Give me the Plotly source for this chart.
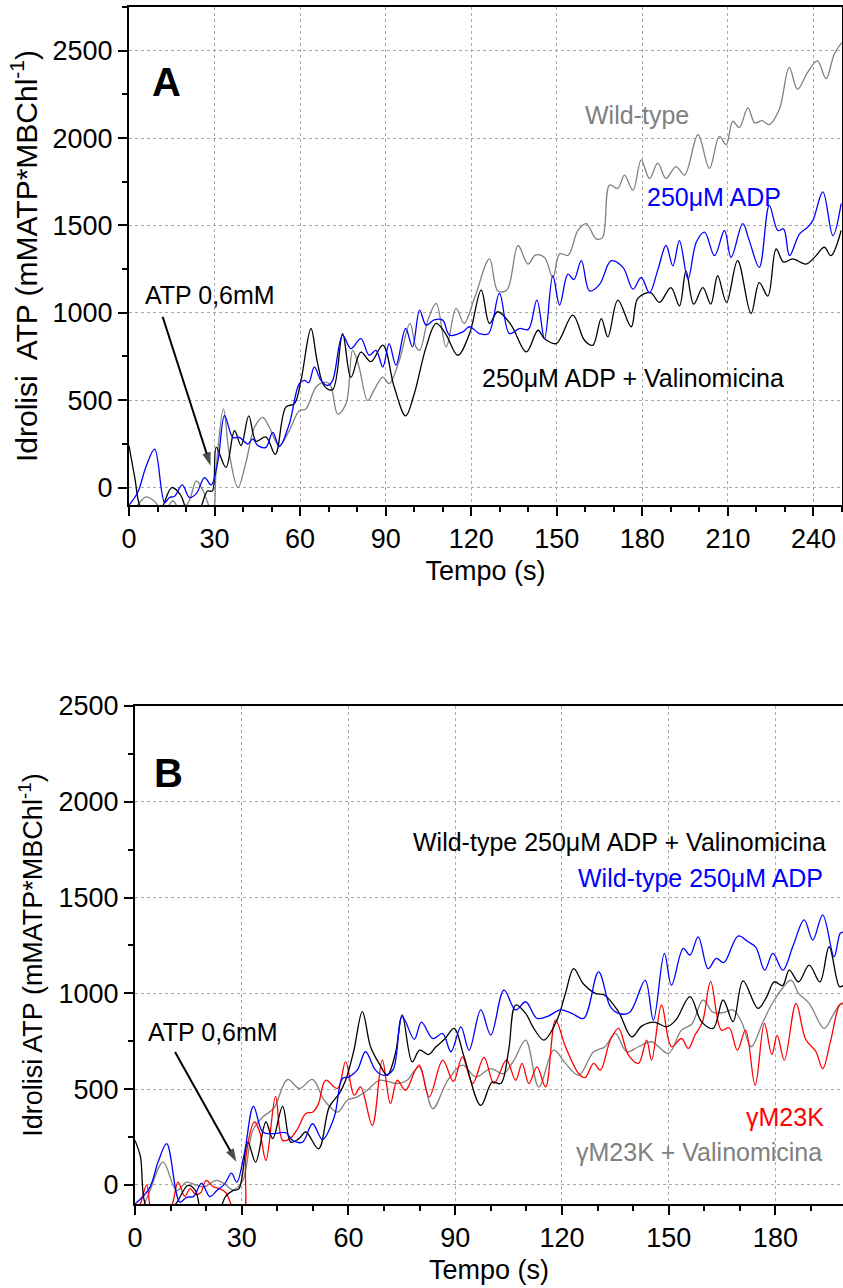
import plotly.graph_objects as go

W, H = 843, 1288

# ---------------- Panel A data ----------------
a_black_x = [0, 2, 4.3, 8, 11, 15, 18, 21, 24, 27.5, 29.2, 30.6, 34, 37, 39.3, 42, 44.6, 48, 51.3, 55, 58, 60.3,
             63.8, 66, 68.5, 71.4, 74.9, 77.8, 81.3, 84.8, 89, 93, 97, 100, 104.2, 107.7, 111, 115.3, 119.4, 123.5,
             126.4, 129.3, 134, 139.3, 143.4, 145.7, 149.8, 155.6, 159.7, 162.6, 165.6, 167.9, 171.4, 176.1, 178.4,
             182.8, 186, 190, 193, 195.3, 198, 201.2, 204, 206.4, 209.5, 213.4, 218.1, 221, 224, 226.9, 229.5, 232.7,
             237.4, 240.5, 243.8, 246.1, 249.7]
a_black_y = [240, 60, -120, -150, -130, 0, -40, -150, -150, -20, -20, 230, 115, 325, 240, 410, 265, 290, 190, 460, 480, 613,
             910, 720, 580, 560, 880, 630, 775, 720, 815, 575, 410, 535, 805, 939, 880, 757, 881, 1130,
             939, 1006, 930, 776, 900, 852, 824, 987, 843, 814, 967, 862, 1073, 920, 1082,
             1115, 1060, 1144, 1040, 1240, 1050, 1144, 1050, 1212, 1060, 1298, 996, 1173, 1096, 1365, 1290, 1308,
             1279, 1320, 1375, 1327, 1471]

a_blue_x = [0, 3, 6, 9, 12.5, 14.2, 16, 18.7, 21.2, 23.6, 26.5, 28.8, 31.2, 33.5, 36.4, 38.7, 41.7, 43.4, 45.2, 48,
            50.4, 52.7, 56.2, 59.7, 61.5, 63, 65, 67.3, 69.7, 71.4, 74.9, 77.8, 81.3, 84.2, 86.6, 89, 91.2, 93.6, 97,
            99.4, 101.9, 104.2, 107, 110, 112.4, 117.1, 119.4, 122.9, 126, 129.9, 133.4, 136.9, 140, 143, 145.7,
            148.6, 151, 153.9, 156, 158.6, 161.5, 165, 169.1, 173.2, 176.7, 179.6, 182.5, 185.5, 188.3, 190.7, 193,
            196, 198.9, 201.8, 205.3, 208.8, 211.1, 215.2, 217.5, 221, 224.5, 227.5, 229.5, 231.6, 235.1, 238, 239.8,
            243.3, 246.8, 249.7]
a_blue_y = [-100, -30, 120, 220, -86, -57, -50, 15, -57, -35, 57, 15, 153, 412, 287, 287, 250, 278, 240, 230,
            316, 234, 364, 594, 613, 600, 690, 613, 584, 613, 872, 795, 852, 757, 785, 690, 824, 700, 910,
            805, 1015, 929, 960, 958, 872, 891, 920, 881, 880, 1111, 881, 910, 905, 1073, 852,
            1212, 1044, 1221, 1190, 1298, 1125, 1163, 1298, 1260, 1135, 1202, 1115, 1250, 1385, 1269, 1413,
            1192, 1404, 1462, 1327, 1471, 1317, 1510, 1413, 1260, 1615, 1471, 1480, 1327, 1452, 1490, 1529,
            1692, 1442, 1625]

a_gray_x = [0, 3, 6, 9, 12, 15.4, 18, 21, 23.6, 26, 29.4, 30.6, 33.1, 35.2, 38.2, 41, 44, 46.9, 49.2, 52.7, 56.2,
            59.7, 62, 65.6, 68.5, 70.5, 73.2, 76.1, 78.4, 80.5, 83.7, 86, 89, 91.2, 94.8, 98.5, 100.6, 101.9, 104.8,
            107.7, 111.2, 114.7, 117.5, 121.2, 126.4, 129.3, 132.5, 136.4, 139.9, 142.5, 145.7, 148.6, 151, 154,
            157.4, 160.3, 163.8, 166, 168.5, 171.4, 173.7, 176.7, 179.6, 182.5, 185.4, 188.3, 191.8, 194.8, 199.5,
            203.5, 207, 209.4, 211.7, 214, 217, 219.4, 222, 224.5, 228, 231.5, 234.4, 237.9, 241.4, 244.4, 247.3, 250]
a_gray_y = [-150, -100, -54, -80, -140, -77, -130, -80, 38, -20, -150, 115, 450, 190, 0, 144, 345, 402, 345, 240, 326,
            440, 450, 575, 603, 590, 420, 479, 785, 700, 498, 560, 632, 594, 728, 939, 805, 785, 958,
            1054, 805, 1025, 940, 1087, 1308, 1125, 1130, 1385, 1279, 1330, 1317, 1202, 1337, 1330,
            1471, 1510, 1423, 1430, 1731, 1712, 1788, 1702, 1875, 1769, 1856, 1769, 1837, 1788, 2019,
            1827, 2010, 1962, 2096, 2060, 2173, 2087, 2100, 2077, 2163, 2404, 2279, 2375, 2442, 2340, 2481, 2548]

# ---------------- Panel B data ----------------
b_black_x = [0, 1.5, 3.3, 7, 11, 14.9, 17, 19, 23, 25.5, 27.5, 29.2, 31.7, 33.9, 36.8, 38.7, 41.5, 43.8, 46, 48, 51.6,
             54.6, 57.4, 59.2, 61.5, 63.9, 66.2, 68.6, 70.9, 73.2, 75.1, 77.9, 80, 82.5, 84.6, 87, 89.7, 92.5, 97.2,
             100.4, 102.8, 105, 107, 109.8, 112, 114.9, 118.6, 121, 123.3, 126, 129.4, 132, 135.9, 139.6, 142.5,
             146, 149.4, 152, 156, 159.2, 162.5, 165.3, 168.1, 170.9, 175.1, 177.5, 179.7, 182, 183.9, 186.5, 189.5,
             192.5, 195.1, 198, 199]
b_black_y = [232, 150, -120, -150, -110, -3, -30, -150, -150, -60, -30, -21, 223, 119, 328, 241, 410, 223, 240, 276, 188,
             407, 476, 546, 700, 904, 721, 634, 572, 686, 887, 642, 703, 680, 721, 760, 817, 668, 415,
             537, 529, 700, 939, 895, 820, 756, 860, 1000, 1129, 1050, 1000, 990, 904, 773, 830,
             850, 825, 860, 983, 852, 817, 965, 852, 1065, 921, 980, 1060, 1040, 1121, 1060, 1147,
             1060, 1243, 1035, 1040]

b_blue_x = [0, 4, 6.5, 8.9, 12.6, 14.5, 16.5, 18.7, 21, 23, 25.2, 27.1, 28.6, 30.8, 33.3, 35.9, 38.7, 42.4, 44.3, 47.1,
            49.9, 52.7, 56, 58.3, 60.2, 62.5, 64.8, 67.6, 70, 72.5, 75.1, 78.5, 80.5, 83.7, 86.5, 88.8, 91.6, 93.9,
            97.2, 100, 103.7, 107, 109.8, 113, 116, 119.6, 122.8, 126.1, 130.3, 133.6, 135.9, 139, 143.4, 145.7,
            148.8, 150.8, 154.1, 156, 158.3, 161.1, 163.4, 165.5, 169.5, 172.3, 174.5, 177, 179.3, 182.1, 185,
            188.1, 190.5, 193.3, 196.5, 198.2, 199]
b_blue_y = [-100, -20, 120, 215, -90, -65, -60, 9, -61, -30, 5, 61, 14, 171, 410, 276, 267, 272, 232, 223,
            319, 236, 354, 555, 564, 600, 695, 599, 572, 600, 878, 760, 850, 764, 790, 695, 825, 703,
            913, 782, 1017, 913, 956, 869, 880, 913, 895, 869, 1112, 930, 895, 900, 1068, 860,
            1208, 1042, 1234, 1200, 1295, 1129, 1182, 1160, 1299, 1269, 1240, 1121, 1208, 1121, 1250,
            1383, 1278, 1409, 1191, 1313, 1320]

b_red_x = [0, 1.5, 3.3, 5, 9, 10.5, 12.1, 14, 15.5, 17, 18.5, 20, 22, 23.8, 25.5, 27, 28.5, 30.5, 31.2, 33.6, 35,
           36.8, 39.5, 41.5, 43.5, 45.7, 48, 50, 51.5, 53.6, 56.9, 59.2, 61.6, 63.4, 66.7, 69.5, 71.8, 73.7, 76,
           78.8, 80, 82.7, 86.5, 89.5, 92, 94.9, 98.1, 100.9, 104.4, 107, 108.8, 110.7, 113, 115.4, 118.2, 121,
           124.7, 126.5, 128.9, 130.8, 133.6, 135.9, 138.7, 141.5, 143.8, 145.2, 148, 150.8, 153.6, 155.5, 157.4,
           159.5, 161.8, 164.8, 167, 169.3, 171.6, 174.3, 176.9, 179, 180.5, 182.5, 185.8, 188.5, 191.4, 193.3,
           195.5, 198, 199]
b_red_y = [-150, -100, 0, -150, -150, -100, 14, -60, -20, -50, -40, 23, -10, -20, -40, -100, -150, -150, 150, 328, 280,
           127, 462, 232, 240, 293, 372, 380, 420, 546, 503, 642, 468, 511, 311, 651, 424, 546, 494,
           599, 625, 459, 651, 540, 668, 529, 665, 529, 651, 546, 634, 529, 616, 511, 860, 721,
           581, 560, 634, 599, 756, 817, 677, 634, 756, 651, 939, 721, 764, 712, 782,
           850, 1061, 808, 820, 703, 808, 520, 843, 680, 780, 651, 947, 760, 695, 607,
           750, 939, 950]

b_gray_x = [0, 2, 4, 7.9, 11.7, 14.5, 17, 19.5, 22.9, 25.5, 27.5, 30.3, 33.1, 35.9, 39, 42.9, 46.2, 49.9, 53.2, 56.9,
            59.7, 62.5, 65.3, 68.6, 71, 73.7, 76.5, 79.8, 83.7, 87.9, 92, 95.8, 100, 103.5, 106.5, 109.8, 113.5,
            117.7, 121, 124.7, 128.9, 132, 135, 138.2, 141.5, 145.2, 149.9, 153.6, 156.5, 159.7, 162.5, 165.5,
            168.1, 170.5, 173.2, 176.5, 179.7, 184.4, 186.5, 189.5, 193.7, 196, 198, 199]
b_gray_y = [-150, -120, -40, 119, -30, 14, 0, -10, 23, 0, -26, 23, 284, 354, 400, 550, 503, 550, 442, 380,
            442, 459, 494, 546, 540, 529, 546, 616, 398, 546, 625, 564, 607, 580, 650, 756, 511,
            703, 634, 572, 695, 720, 791, 695, 721, 747, 686, 808, 840, 965, 900, 900,
            913, 850, 721, 850, 965, 1068, 1000, 947, 817, 880, 939, 945]

# "ATP 0,6mM" arrows: (tail, head) in data units
a_arrow_x = [11.8, 28.6]
a_arrow_y = [977, 125]
b_arrow_x = [11.25, 28.5]
b_arrow_y = [693, 120]

# tick values
a_xticks = [0, 30, 60, 90, 120, 150, 180, 210, 240]
b_xticks = [0, 30, 60, 90, 120, 150, 180]
a_yticks = [0, 500, 1000, 1500, 2000, 2500]
b_yticks = [0, 500, 1000, 1500, 2000, 2500]

GRAY = "#808080"
BLUE = "#0000ff"
RED = "#ff0000"
BLACK = "#000000"
FONT = "Liberation Sans, Arial, sans-serif"

fig = go.Figure()


def add_line(x, y, color, xa, ya):
    fig.add_trace(go.Scatter(x=x, y=y, mode="lines", xaxis=xa, yaxis=ya,
                             line=dict(color=color, width=1.3, shape="spline", smoothing=1.0),
                             showlegend=False, hoverinfo="skip"))


def add_arrow(x, y, xa, ya):
    fig.add_trace(go.Scatter(x=x, y=y, mode="lines+markers", xaxis=xa, yaxis=ya,
                             line=dict(color="black", width=2),
                             marker=dict(symbol="arrow", size=[0, 14], color="black", angleref="previous",
                                         line=dict(width=0)),
                             showlegend=False, hoverinfo="skip", cliponaxis=False))


add_line(a_gray_x, a_gray_y, GRAY, "x", "y")
add_line(a_black_x, a_black_y, BLACK, "x", "y")
add_line(a_blue_x, a_blue_y, BLUE, "x", "y")
add_arrow(a_arrow_x, a_arrow_y, "x", "y")

add_line(b_gray_x, b_gray_y, GRAY, "x2", "y2")
add_line(b_red_x, b_red_y, RED, "x2", "y2")
add_line(b_black_x, b_black_y, BLACK, "x2", "y2")
add_line(b_blue_x, b_blue_y, BLUE, "x2", "y2")
add_arrow(b_arrow_x, b_arrow_y, "x2", "y2")


def px(xp):
    return xp / W


def py(yp):
    return 1 - yp / H


common_axis = dict(showline=True, linewidth=2, linecolor="black", mirror=True, automargin=False,
                   ticks="outside", ticklen=9, tickwidth=2, tickcolor="black",
                   showgrid=True, gridcolor="#a8a8a8", gridwidth=1, griddash="dot",
                   zeroline=False, tickfont=dict(family=FONT, size=27, color="black"))

minor_x = dict(dtick=10, tick0=0, ticklen=5, tickwidth=2, ticks="outside", tickcolor="black", showgrid=False)
minor_y = dict(dtick=250, tick0=0, ticklen=5, tickwidth=2, ticks="outside", tickcolor="black", showgrid=False)


def xtitle():
    return dict(text="Tempo (s)", font=dict(family=FONT, size=27, color="black"), standoff=8)


fig.update_layout(
    width=W, height=H, margin=dict(l=0, r=0, t=0, b=0, pad=0, autoexpand=False),
    paper_bgcolor="white", plot_bgcolor="white",
    xaxis=dict(domain=[px(129), px(842)], range=[0, 250], anchor="y", tickvals=a_xticks, minor=minor_x,
               title=xtitle(), **common_axis),
    yaxis=dict(domain=[py(505), py(7)], range=[-100, 2750], anchor="x", tickvals=a_yticks, minor=minor_y,
               title=dict(text="Idrolisi  ATP (mMATP*MBChl<sup>-1</sup>)",
                          font=dict(family=FONT, size=30, color="black"), standoff=6),
               **common_axis),
    xaxis2=dict(domain=[px(135), 1.0], range=[0, 199], anchor="y2", tickvals=b_xticks, minor=minor_x,
                title=xtitle(), **common_axis),
    yaxis2=dict(domain=[py(1204), py(706)], range=[-100, 2500], anchor="x2", tickvals=b_yticks, minor=minor_y,
                title=dict(text="Idrolisi ATP (mMATP*MBChl<sup>-1</sup>)",
                           font=dict(family=FONT, size=27, color="black"), standoff=8),
                **common_axis),
)

ann = []


def label(text, xp, yp, color="black", size=25, xanchor="center", bold=False):
    t = f"<b>{text}</b>" if bold else text
    ann.append(dict(text=t, x=px(xp), y=py(yp), xref="paper", yref="paper", showarrow=False,
                    xanchor=xanchor, yanchor="middle",
                    font=dict(family=FONT, size=size, color=color)))


# Panel A labels
label("A", 166.7, 81.7, size=40, bold=True)
label("Wild-type", 636.7, 115, color=GRAY)
label("250\u03bcM ADP", 714, 196.7, color=BLUE)
label("250\u03bcM ADP + Valinomicina", 633, 378)
label("ATP 0,6mM", 210, 295)

# Panel B labels
label("B", 168, 773, size=40, bold=True)
label("Wild-type 250\u03bcM ADP + Valinomicina", 828.3, 841.7, xanchor="right")
label("Wild-type 250\u03bcM ADP", 825, 878, color=BLUE, xanchor="right")
label("\u03b3M23K", 826, 1117, color=RED, xanchor="right")
label("\u03b3M23K + Valinomicina", 824, 1152, color=GRAY, xanchor="right")
label("ATP 0,6mM", 212.5, 1032)

fig.update_layout(annotations=ann)
fig.write_html("out.html")
